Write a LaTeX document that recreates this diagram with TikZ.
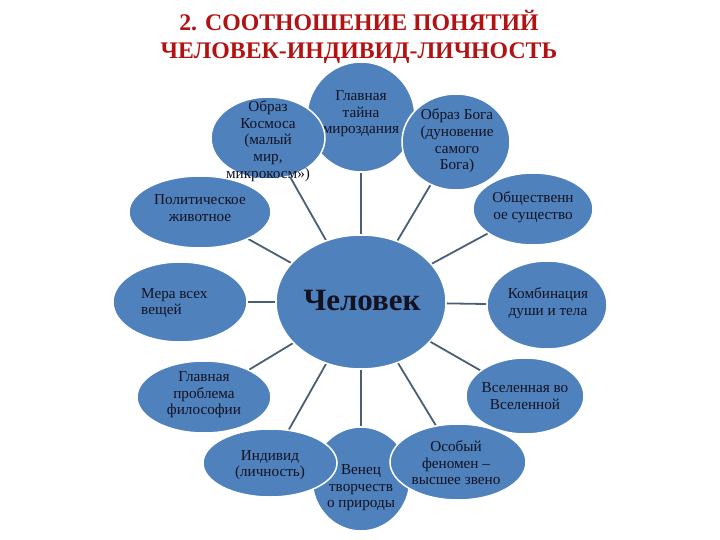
\documentclass[tikz,border=0pt]{standalone}
\usepackage{fontspec}
\setmainfont{Liberation Serif}
\usetikzlibrary{shapes.geometric,backgrounds}
\definecolor{blobcol}{RGB}{79,129,189}
\definecolor{linkcol}{RGB}{74,94,117}
\definecolor{ttlcol}{RGB}{178,18,18}
\definecolor{inkcol}{RGB}{18,18,32}
\begin{document}
\begin{tikzpicture}[x=1pt,y=-1pt,
  bub/.style={ellipse, fill=blobcol, draw=white, line width=1.5pt, inner sep=0pt},
  lbl/.style={font=\fontsize{15.2}{16.6}\selectfont, text=inkcol, align=center, inner sep=0pt},
  link/.style={draw=linkcol, line width=1.8pt}]
\useasboundingbox (0,0) rectangle (720,540);

\node[font=\bfseries\fontsize{23.8}{27.5}\selectfont, text=ttlcol, align=center] (title) at (359,37)
  {2. СООТНОШЕНИЕ ПОНЯТИЙ\\ЧЕЛОВЕК-ИНДИВИД-ЛИЧНОСТЬ};

% centre
\node[bub, minimum width=170pt, minimum height=134pt] (c) at (361,302) {};
\node[font=\bfseries\fontsize{31}{33}\selectfont, text=inkcol] (ct) at (362,301) {Человек};

% top group
\node[bub, minimum width=108pt, minimum height=110pt] (n1) at (361,117) {};
\node[lbl] (t1) at (361,114) {Главная\\тайна\\мироздания};
\node[bub, minimum width=142pt, minimum height=72pt] (n12) at (200,212) {};
\node[lbl] (t12) at (200,208) {Политическое\\животное};
\node[bub, minimum width=114pt, minimum height=82pt] (n2) at (268,138) {};
\node[lbl] (t2) at (268,141) {Образ\\Космоса\\(малый\\мир,\\микрокосм»)};
\node[bub, minimum width=108pt, minimum height=96pt] (n3) at (456,142) {};
\node[lbl] (t3) at (457,141) {Образ Бога\\(дуновение\\самого\\Бога)};

% right side
\node[bub, minimum width=120pt, minimum height=72pt] (n4) at (533,209) {};
\node[lbl] (t4) at (533,207) {Общественн\\ое существо};
\node[bub, minimum width=120pt, minimum height=88pt] (n5) at (547,305) {};
\node[lbl] (t5) at (548,303) {Комбинация\\души и тела};
\node[bub, minimum width=118pt, minimum height=76pt] (n6) at (525,396) {};
\node[lbl] (t6) at (525,396) {Вселенная во\\Вселенной};

% bottom group
\node[bub, minimum width=98pt, minimum height=104pt] (n8) at (361,479) {};
\node[lbl] (t8) at (361,488) {Венец\\творчеств\\о природы};
\node[bub, minimum width=134pt, minimum height=68pt] (n9) at (270,463) {};
\node[lbl] (t9) at (270,465) {Индивид\\(личность)};
\node[bub, minimum width=136pt, minimum height=76pt] (n7) at (458,462) {};
\node[lbl] (t7) at (456,463) {Особый\\феномен –\\высшее звено};

% left side
\node[bub, minimum width=134pt, minimum height=72pt] (n10) at (204,397) {};
\node[lbl] (t10) at (204,395) {Главная\\проблема\\философии};
\node[bub, minimum width=134pt, minimum height=80pt] (n11) at (180,302) {};
\node[lbl, align=left, anchor=west] (t11) at (141,303) {Мера всех\\вещей};

\begin{scope}[on background layer]
  \foreach \k in {n1,n2,n3,n4,n5,n6,n7,n8,n9,n10,n11,n12}
    \draw[link] (c) -- (\k);
\end{scope}
\end{tikzpicture}
\end{document}
